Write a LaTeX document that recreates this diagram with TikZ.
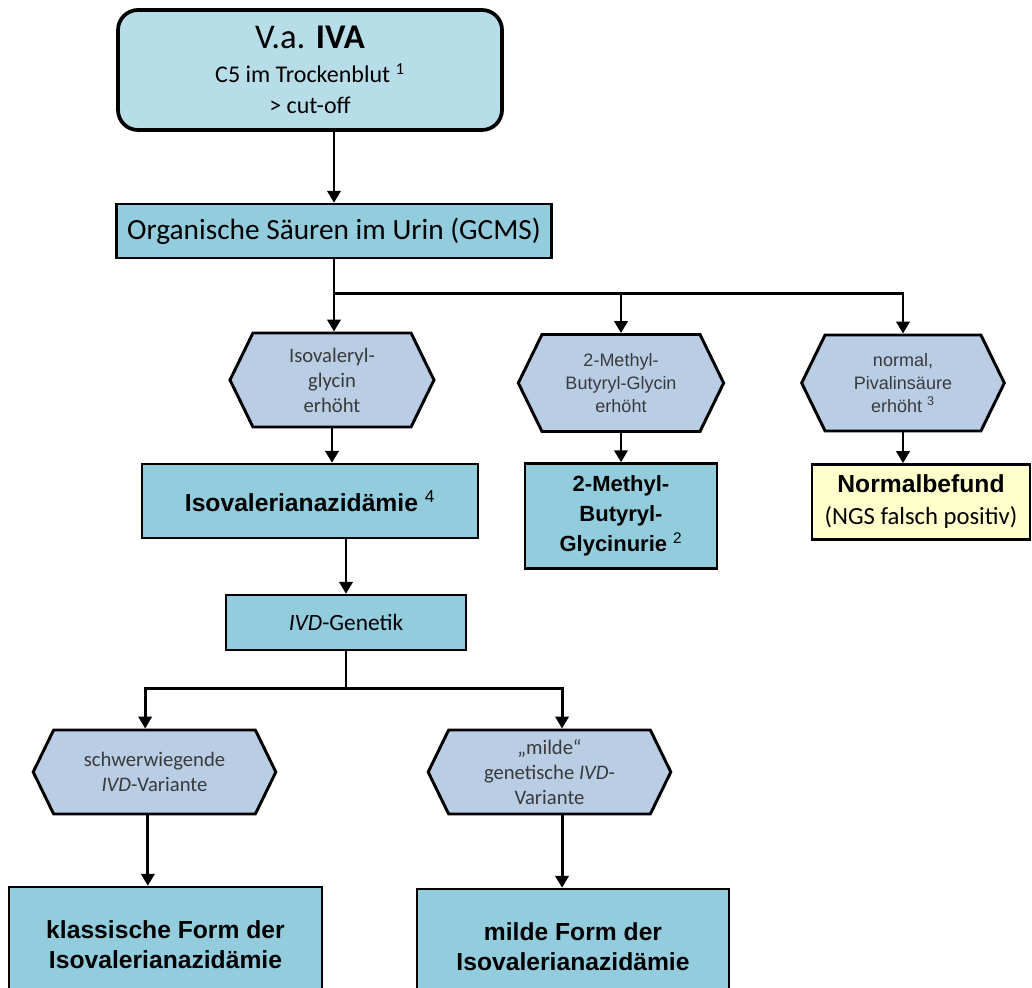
\documentclass[tikz,border=0pt]{standalone}
\usepackage{fontspec}
\setmainfont{Carlito}
\newfontfamily\arialfont{Liberation Sans}
\usetikzlibrary{positioning}
\usetikzlibrary {arrows.meta}
\usetikzlibrary{shapes.symbols}
\definecolor{startblue}{HTML}{B7DEE8}
\definecolor{boxblue}{HTML}{93CDDD}
\definecolor{hexblue}{HTML}{B9CDE5}
\definecolor{resultyellow}{HTML}{FFFFCC}
\definecolor{hextext}{HTML}{3A3A3A}
\tikzset{startbox/.style={rectangle,rounded corners=15pt,draw=black,line width=2.8pt,
fill=startblue,align=center,inner sep=2pt,minimum width=288pt,minimum height=90pt}}
\tikzset{stepbox/.style={rectangle,draw=black,line width=1.8pt,fill=boxblue,
align=center,inner sep=2pt}}
\tikzset{resultbox/.style={rectangle,draw=black,line width=1.8pt,fill=resultyellow,
align=center,inner sep=2pt}}
\tikzset{findinghex/.style={signal,signal to=west and east,signal pointer angle=128,
draw=black,line width=2.2pt,fill=hexblue,align=center,inner sep=1pt,text=hextext}}
\tikzset{calibrihex/.style={findinghex,font=\fontsize{15.5}{18.75}\selectfont}}
\tikzset{arialhex/.style={findinghex,font=\arialfont\fontsize{13.5}{17}\selectfont}}
\tikzset{boldbox/.style={stepbox,font=\arialfont\bfseries\fontsize{18.5}{22.5}\selectfont}}
\tikzset{flowline/.style={line width=2.2pt}}
\tikzset{flowarrow/.style={line width=2.2pt,-{Triangle[length=9pt,width=10pt]}}}

\begin{document}
\begin{tikzpicture}[x=0.75pt,y=-0.75pt]
        \useasboundingbox (0,0) rectangle (1032,988);

        \node[startbox, font=\fontsize{18}{23}\selectfont] (root) at (310,70) {{\fontsize{26}{30}\selectfont V.a. \textbf{IVA}}\\[2.5pt]
            C5 im Trockenblut \textsuperscript{1}\\ > cut-off};
        \node[stepbox, minimum width=326pt, minimum height=40.5pt, font=\fontsize{22}{26}\selectfont] (gcms) at (334,231) {Organische Säuren im Urin (GCMS)};

        \node[calibrihex, minimum width=153pt, minimum height=70.5pt] (isoHex) at (332,380) {Isovaleryl-\\glycin\\erhöht};
        \node[arialhex, minimum width=154pt, minimum height=72.75pt] (mbgHex) at (621,383) {2-Methyl-\\Butyryl-Glycin\\erhöht};
        \node[arialhex, minimum width=152pt, minimum height=72pt] (normHex) at (903,383) {normal,\\Pivalinsäure\\erhöht \textsuperscript{3}};

        \node[boldbox, minimum width=252pt, minimum height=55.5pt] (isoBox) at (310,501) {Isovalerianazidämie \textsuperscript{\mdseries 4}};
        \node[stepbox, minimum width=144pt, minimum height=78.75pt, font=\arialfont\bfseries\fontsize{16.5}{22.5}\selectfont] (mbgBox) [below=22pt of mbgHex] {2-Methyl-\\Butyryl-\\Glycinurie \textsuperscript{\mdseries 2}};
        \node[resultbox, minimum width=163.5pt, minimum height=56.25pt, font=\fontsize{18.5}{24}\selectfont] (normBox) [below=23pt of normHex, xshift=13.5pt] {{\arialfont\bfseries Normalbefund}\\(NGS falsch positiv)};

        \node[stepbox, minimum width=180pt, minimum height=41.25pt, font=\fontsize{17.5}{21}\selectfont] (ivd) at (346,622.5) {\textit{IVD}-Genetik};

        \node[calibrihex, minimum width=182pt, minimum height=63pt] (schwerHex) at (154.5,772) {schwerwiegende\\\textit{IVD}-Variante};
        \node[calibrihex, minimum width=182pt, minimum height=63pt] (mildHex) at (549.5,772) {„milde“\\genetische \textit{IVD}-\\Variante};

        \node[boldbox, minimum width=234.75pt, minimum height=87pt] (klassBox) at (165.5,945) {klassische Form der\\Isovalerianazidämie};
        \node[boldbox, minimum width=234pt, minimum height=87pt] (mildBox) at (573,947) {milde Form der\\Isovalerianazidämie};

        \draw[flowarrow] (gcms.north |- root.south) -- (gcms.north);
        \coordinate (split1) at ([yshift=-25.5pt]gcms.south);
        \draw[flowline] (gcms.south) -- (split1);
        \draw[flowarrow] (split1) -- (split1 |- isoHex.north);
        \draw[flowarrow] (split1) -| (mbgHex.north);
        \draw[flowarrow] (split1) -| (normHex.north);

        \draw[flowarrow] (isoHex.south) -- (isoHex.south |- isoBox.north);
        \draw[flowarrow] (mbgHex.south) -- (mbgBox.north);
        \draw[flowarrow] (normHex.south) -- (normHex.south |- normBox.north);
        \draw[flowarrow] (ivd.north |- isoBox.south) -- (ivd.north);

        \coordinate (split2) at ([yshift=-27.75pt]ivd.south);
        \draw[flowline] (ivd.south) -- (split2);
        \draw[flowarrow] (split2) -| ([xshift=-7pt]schwerHex.north);
        \draw[flowarrow] (split2) -| ([xshift=9.4pt]mildHex.north);
        \draw[flowarrow] ([xshift=-5pt]schwerHex.south) -- ([xshift=-5pt]schwerHex.south |- klassBox.north);
        \draw[flowarrow] ([xshift=9.4pt]mildHex.south) -- ([xshift=9.4pt]mildHex.south |- mildBox.north);

    \end{tikzpicture}
\end{document}
